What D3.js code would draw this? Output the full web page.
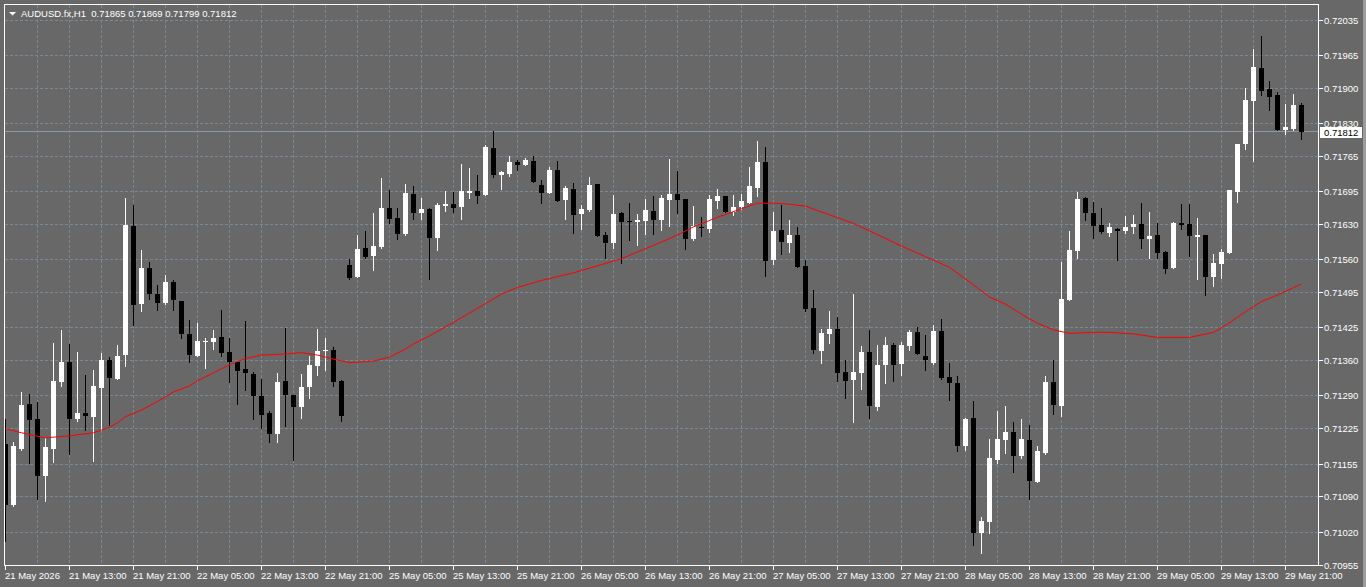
<!DOCTYPE html>
<html>
<head>
<meta charset="utf-8">
<script src="https://cdn.jsdelivr.net/npm/d3@7"></script>
<style>
  html, body { margin: 0; padding: 0; background: #686868; }
  svg { display: block; }
  text { font-family: "Liberation Sans", Arial, sans-serif; font-size: 9.5px; fill: #ffffff; }
</style>
</head>
<body>
<svg id="chart" width="1366" height="587"></svg>
<script>
const symbolTitle = "AUDUSD.fx,H1";
const lastOHLC = ["0.71865", "0.71869", "0.71799", "0.71812"];

const timeLabels = ["21 May 2026","21 May 13:00","21 May 21:00","22 May 05:00","22 May 13:00","22 May 21:00",
  "25 May 05:00","25 May 13:00","25 May 21:00","26 May 05:00","26 May 13:00","26 May 21:00",
  "27 May 05:00","27 May 13:00","27 May 21:00","28 May 05:00","28 May 13:00","28 May 21:00",
  "29 May 05:00","29 May 13:00","29 May 21:00"];
const timeLabelBars = [0,8,16,24,32,40,48,56,64,72,80,88,96,104,112,120,128,136,144,152,160];

const priceTicks = ["0.72035","0.71965","0.71900","0.71830","0.71765","0.71695","0.71630","0.71560",
  "0.71495","0.71425","0.71360","0.71290","0.71225","0.71155","0.71090","0.71020","0.70955"];

const open = [0.71194,0.71072,0.71183,0.71273,0.71244,0.71131,0.71184,0.71316,0.71357,0.71244,
0.71256,0.71248,0.71305,0.71361,0.71323,0.71370,0.71626,0.71471,0.71543,0.71491,
0.71473,0.71515,0.71478,0.71412,0.71368,0.71395,0.71396,0.71406,0.71376,0.71357,
0.71343,0.71333,0.71289,0.71255,0.71214,0.71319,0.71291,0.71267,0.71307,0.71349,
0.71378,0.71380,0.71319,0.71549,0.71525,0.71583,0.71567,0.71585,0.71662,0.71642,
0.71610,0.71690,0.71652,0.71660,0.71602,0.71666,0.71670,0.71663,0.71692,0.71696,
0.71687,0.71781,0.71727,0.71729,0.71753,0.71747,0.71755,0.71707,0.71692,0.71737,
0.71678,0.71699,0.71650,0.71658,0.71709,0.71608,0.71592,0.71652,0.71636,0.71634,
0.71636,0.71656,0.71638,0.71678,0.71690,0.71680,0.71600,0.71624,0.71620,0.71676,
0.71686,0.71654,0.71664,0.71672,0.71701,0.71753,0.71559,0.71618,0.71592,0.71608,
0.71547,0.71464,0.71378,0.71412,0.71422,0.71337,0.71321,0.71335,0.71376,0.71267,
0.71351,0.71390,0.71353,0.71388,0.71416,0.71369,0.71355,0.71418,0.71327,0.71315,
0.71190,0.71246,0.71018,0.71040,0.71162,0.71202,0.71218,0.71170,0.71202,0.71119,
0.71176,0.71317,0.71269,0.71479,0.71577,0.71682,0.71652,0.71628,0.71612,0.71620,
0.71616,0.71624,0.71630,0.71600,0.71608,0.71575,0.71543,0.71632,0.71630,0.71604,
0.71608,0.71525,0.71551,0.71573,0.71694,0.71789,0.71874,0.71939,0.71898,0.71886,
0.71816,0.71818,0.71865];

const high = [0.71243,0.71197,0.71297,0.71292,0.71277,0.71205,0.71394,0.71420,0.71392,0.71376,
0.71331,0.71341,0.71375,0.71366,0.71389,0.71682,0.71667,0.71579,0.71555,0.71509,
0.71529,0.71519,0.71478,0.71440,0.71434,0.71404,0.71420,0.71460,0.71404,0.71359,
0.71438,0.71336,0.71323,0.71259,0.71335,0.71424,0.71291,0.71333,0.71369,0.71422,
0.71404,0.71386,0.71321,0.71561,0.71608,0.71616,0.71652,0.71721,0.71697,0.71662,
0.71709,0.71705,0.71682,0.71662,0.71672,0.71696,0.71694,0.71749,0.71741,0.71727,
0.71787,0.71814,0.71735,0.71765,0.71757,0.71761,0.71765,0.71717,0.71743,0.71755,
0.71705,0.71711,0.71668,0.71723,0.71709,0.71614,0.71688,0.71654,0.71672,0.71650,
0.71680,0.71686,0.71688,0.71759,0.71735,0.71680,0.71666,0.71644,0.71688,0.71699,
0.71686,0.71688,0.71690,0.71743,0.71795,0.71783,0.71654,0.71668,0.71638,0.71624,
0.71559,0.71499,0.71422,0.71458,0.71446,0.71361,0.71491,0.71388,0.71420,0.71390,
0.71406,0.71394,0.71396,0.71420,0.71426,0.71410,0.71430,0.71442,0.71355,0.71329,
0.71246,0.71279,0.71049,0.71204,0.71259,0.71269,0.71238,0.71244,0.71232,0.71190,
0.71329,0.71361,0.71555,0.71616,0.71694,0.71684,0.71674,0.71662,0.71632,0.71622,
0.71646,0.71648,0.71672,0.71654,0.71632,0.71577,0.71634,0.71670,0.71670,0.71642,
0.71608,0.71571,0.71581,0.71697,0.71789,0.71900,0.71977,0.72003,0.71913,0.71892,
0.71868,0.71888,0.71869];

const low = [0.71001,0.71070,0.71182,0.71157,0.71085,0.71081,0.71159,0.71308,0.71174,0.71239,
0.71221,0.71161,0.71222,0.71231,0.71323,0.71349,0.71430,0.71457,0.71482,0.71459,
0.71471,0.71460,0.71403,0.71356,0.71368,0.71344,0.71383,0.71368,0.71317,0.71274,
0.71301,0.71244,0.71226,0.71197,0.71197,0.71230,0.71162,0.71246,0.71285,0.71331,
0.71341,0.71309,0.71240,0.71521,0.71525,0.71563,0.71539,0.71583,0.71631,0.71600,
0.71608,0.71640,0.71640,0.71521,0.71579,0.71656,0.71654,0.71639,0.71682,0.71671,
0.71687,0.71723,0.71699,0.71725,0.71737,0.71747,0.71713,0.71672,0.71692,0.71676,
0.71640,0.71612,0.71620,0.71656,0.71606,0.71563,0.71583,0.71553,0.71598,0.71588,
0.71610,0.71610,0.71618,0.71626,0.71652,0.71581,0.71598,0.71606,0.71614,0.71662,
0.71654,0.71648,0.71660,0.71672,0.71686,0.71527,0.71551,0.71571,0.71575,0.71545,
0.71458,0.71374,0.71355,0.71394,0.71319,0.71285,0.71238,0.71303,0.71246,0.71261,
0.71315,0.71319,0.71331,0.71380,0.71372,0.71341,0.71353,0.71323,0.71281,0.71180,
0.71182,0.70994,0.70978,0.71018,0.71156,0.71176,0.71139,0.71166,0.71085,0.71119,
0.71174,0.71254,0.71250,0.71479,0.71563,0.71638,0.71602,0.71612,0.71606,0.71559,
0.71612,0.71612,0.71583,0.71563,0.71563,0.71533,0.71543,0.71620,0.71567,0.71521,
0.71489,0.71507,0.71523,0.71573,0.71674,0.71779,0.71755,0.71886,0.71856,0.71816,
0.71808,0.71816,0.71799];

const close = [0.71072,0.71189,0.71271,0.71241,0.71130,0.71187,0.71319,0.71357,0.71244,0.71256,
0.71250,0.71309,0.71361,0.71324,0.71369,0.71628,0.71469,0.71543,0.71491,0.71473,
0.71515,0.71479,0.71411,0.71370,0.71398,0.71398,0.71404,0.71375,0.71357,0.71339,
0.71334,0.71289,0.71252,0.71214,0.71317,0.71291,0.71267,0.71307,0.71351,0.71378,
0.71381,0.71317,0.71250,0.71523,0.71581,0.71565,0.71586,0.71662,0.71640,0.71610,
0.71692,0.71652,0.71660,0.71602,0.71668,0.71669,0.71661,0.71696,0.71696,0.71685,
0.71783,0.71727,0.71733,0.71753,0.71747,0.71757,0.71713,0.71692,0.71737,0.71676,
0.71701,0.71648,0.71660,0.71707,0.71606,0.71592,0.71650,0.71634,0.71634,0.71638,
0.71658,0.71638,0.71682,0.71690,0.71678,0.71600,0.71626,0.71622,0.71680,0.71686,
0.71654,0.71664,0.71676,0.71705,0.71753,0.71557,0.71616,0.71594,0.71608,0.71545,
0.71462,0.71380,0.71414,0.71422,0.71335,0.71319,0.71337,0.71376,0.71269,0.71351,
0.71390,0.71351,0.71390,0.71416,0.71372,0.71361,0.71418,0.71325,0.71315,0.71190,
0.71244,0.71018,0.71042,0.71166,0.71204,0.71218,0.71170,0.71204,0.71121,0.71180,
0.71317,0.71271,0.71481,0.71579,0.71680,0.71652,0.71626,0.71614,0.71624,0.71616,
0.71624,0.71630,0.71600,0.71606,0.71573,0.71541,0.71632,0.71628,0.71606,0.71608,
0.71525,0.71553,0.71575,0.71697,0.71789,0.71876,0.71941,0.71894,0.71882,0.71816,
0.71822,0.71866,0.71812];

// Moving average line (red), read at these bar indices
const maBars = [0,2,5,8,11,13,14,15,17,20,21,23,24,26,28,30,32,35,37,39,41,43,46,48,49,50,51,53,55,57,
  60,62,64,67,71,74,77,80,82,84,86,89,92,94,96,98,100,103,106,108,112,115,118,121,123,125,127,129,131,133,
  136,138,141,144,148,151,153,155,157,159,162];
const maValues = [0.71224,0.71216,0.71206,0.71210,0.71216,0.71227,0.71236,0.71248,0.71261,0.71287,0.71297,0.71309,
  0.71319,0.71335,0.71351,0.71363,0.71370,0.71372,0.71375,0.71370,0.71362,0.71355,0.71358,0.71366,0.71374,0.71382,
  0.71392,0.71408,0.71426,0.71444,0.71472,0.71491,0.71504,0.71518,0.71533,0.71547,0.71561,0.71581,0.71594,0.71608,
  0.71624,0.71643,0.71660,0.71671,0.71671,0.71669,0.71665,0.71648,0.71631,0.71616,0.71586,0.71565,0.71544,0.71509,
  0.71485,0.71471,0.71451,0.71433,0.71420,0.71413,0.71415,0.71415,0.71412,0.71405,0.71405,0.71415,0.71434,0.71456,
  0.71476,0.71489,0.71511];

const currentPrice = 0.71812;

// ---------- drawing ----------
const W = 1366, H = 587;
const plot = { left: 4, top: 4, right: 1318, bottom: 565 };
const bg = "#686868", gridColor = "#778899";

const svg = d3.select("#chart");
svg.append("rect").attr("x", 0).attr("y", 0).attr("width", W).attr("height", H).attr("fill", bg);
// window edge strip at the far right
svg.append("rect").attr("x", 1363).attr("y", 0).attr("width", 3).attr("height", H).attr("fill", "#9c9c9c");

const x = d3.scaleLinear().domain([0, open.length - 1]).range([5.5, 5.5 + 8 * (open.length - 1)]);
const y = d3.scaleLinear().domain([0.70955, 0.72035]).range([564.5, 19.5]);
const ry = v => Math.round(y(v));

svg.append("defs").append("clipPath").attr("id", "clip")
  .append("rect").attr("x", plot.left + 1).attr("y", plot.top + 1)
  .attr("width", plot.right - plot.left - 1).attr("height", plot.bottom - plot.top - 1);

const grid = svg.append("g").attr("stroke", gridColor).attr("stroke-width", 1)
  .attr("stroke-dasharray", "3,2").attr("shape-rendering", "crispEdges");

// horizontal grid
grid.selectAll("line.h").data(priceTicks).join("line").attr("class", "h")
  .attr("x1", plot.left + 1).attr("x2", plot.right)
  .attr("y1", d => ry(+d) + 0.5).attr("y2", d => ry(+d) + 0.5);
// vertical grid every 4 bars
const vBars = d3.range(4, open.length, 4);
grid.selectAll("line.v").data(vBars).join("line").attr("class", "v")
  .attr("x1", d => x(d)).attr("x2", d => x(d))
  .attr("y1", plot.top + 1).attr("y2", plot.bottom);

// current price line
svg.append("line").attr("x1", plot.left + 1).attr("x2", plot.right)
  .attr("y1", ry(currentPrice) - 0.5).attr("y2", ry(currentPrice) - 0.5)
  .attr("stroke", "#8c98a6").attr("stroke-width", 1).attr("shape-rendering", "crispEdges");

const g = svg.append("g").attr("clip-path", "url(#clip)");

const idx = d3.range(open.length);
// wicks
g.append("g").attr("shape-rendering", "crispEdges").selectAll("line").data(idx).join("line")
  .attr("x1", i => x(i)).attr("x2", i => x(i))
  .attr("y1", i => ry(high[i])).attr("y2", i => ry(low[i]) + 1)
  .attr("stroke", i => close[i] >= open[i] ? "#ffffff" : "#000000").attr("stroke-width", 1);
// bodies
g.append("g").attr("shape-rendering", "crispEdges").selectAll("rect").data(idx).join("rect")
  .attr("x", i => x(i) - 2.5)
  .attr("y", i => ry(Math.max(open[i], close[i])))
  .attr("width", 5)
  .attr("height", i => Math.max(1, ry(Math.min(open[i], close[i])) - ry(Math.max(open[i], close[i]))))
  .attr("fill", i => close[i] >= open[i] ? "#ffffff" : "#000000");

// moving average
const maLine = d3.line().x((d, k) => x(maBars[k])).y(d => y(d));
g.append("path").datum(maValues).attr("d", maLine)
  .attr("fill", "none").attr("stroke", "#ff0000").attr("stroke-width", 1);

// frame
svg.append("rect").attr("x", plot.left + 0.5).attr("y", plot.top + 0.5)
  .attr("width", plot.right - plot.left).attr("height", plot.bottom - plot.top)
  .attr("fill", "none").attr("stroke", "#ffffff").attr("stroke-width", 1)
  .attr("shape-rendering", "crispEdges");

// price axis
const pAxis = svg.append("g");
pAxis.selectAll("line").data(priceTicks).join("line")
  .attr("x1", plot.right + 0.5).attr("x2", plot.right + 4.5)
  .attr("y1", d => ry(+d) + 0.5).attr("y2", d => ry(+d) + 0.5)
  .attr("stroke", "#ffffff").attr("shape-rendering", "crispEdges");
pAxis.selectAll("text").data(priceTicks).join("text")
  .attr("x", plot.right + 6).attr("y", d => ry(+d) + 4).text(d => d);

// current price box
const cpY = ry(currentPrice);
svg.append("rect").attr("x", 1320).attr("y", cpY - 5).attr("width", 42).attr("height", 11).attr("fill", "#ffffff");
svg.append("text").attr("x", plot.right + 6).attr("y", cpY + 4).style("fill", "#000000")
  .text(currentPrice.toFixed(5));

// time axis
const tAxis = svg.append("g");
tAxis.selectAll("line").data(timeLabelBars).join("line")
  .attr("x1", d => x(d)).attr("x2", d => x(d))
  .attr("y1", plot.bottom + 1).attr("y2", plot.bottom + 5)
  .attr("stroke", "#ffffff").attr("shape-rendering", "crispEdges");
tAxis.selectAll("text").data(timeLabelBars).join("text")
  .attr("x", d => x(d) - 0.5).attr("y", 579).text((d, k) => timeLabels[k]);

// header
svg.append("path").attr("d", "M9,12 L16,12 L12.5,15.5 Z").attr("fill", "#ffffff");
svg.append("text").attr("x", 21).attr("y", 17).style("white-space", "pre")
  .text(symbolTitle + "  " + lastOHLC.join(" "));
</script>
</body>
</html>
